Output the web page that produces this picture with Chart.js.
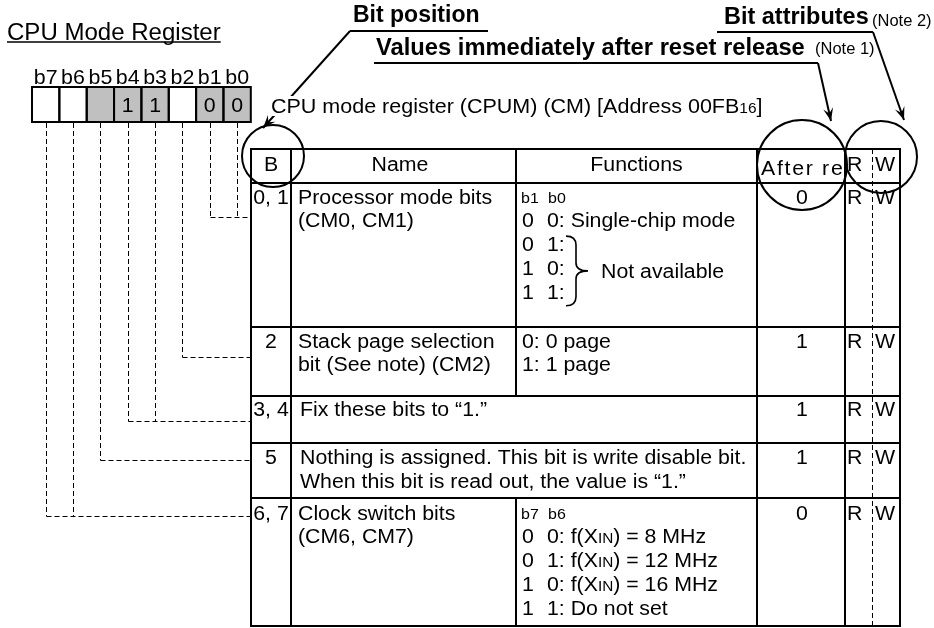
<!DOCTYPE html>
<html><head><meta charset="utf-8">
<script src="https://cdn.jsdelivr.net/npm/chart.js@4"></script>
<style>html,body{margin:0;padding:0;background:#fff;overflow:hidden}canvas{display:block}</style>
</head><body>
<canvas id="c" width="934" height="628"></canvas>
<script>
// ---------- DATA ----------
const registerTitle = 'CPU Mode Register';
const registerCaption = 'CPU mode register (CPUM) (CM) [Address 00FB{16}]';
const bitLabels = ['b7', 'b6', 'b5', 'b4', 'b3', 'b2', 'b1', 'b0'];
const bitFixedValues = ['', '', '', '1', '1', '', '0', '0'];
const bitShaded = [false, false, true, true, true, false, true, true];
const bitRowIndex = [4, 4, 3, 2, 2, 1, 0, 0];
const headers = ['B', 'Name', 'Functions', 'After reset', 'R', 'W'];
const rowBits = ['0, 1', '2', '3, 4', '5', '6, 7'];
const rowNames = [
  ['Processor mode bits', '(CM0, CM1)'],
  ['Stack page selection', 'bit (See note) (CM2)'],
  ['Fix these bits to \u201c1.\u201d'],
  ['Nothing is assigned. This bit is write disable bit.', 'When this bit is read out, the value is \u201c1.\u201d'],
  ['Clock switch bits', '(CM6, CM7)']
];
const rowSpansFunctions = [false, false, true, true, false];
const rowFunctionBitHeader = ['b1\tb0', '', '', '', 'b7\tb6'];
const rowFunctions = [
  ['0\t0: Single-chip mode', '0\t1:', '1\t0:', '1\t1:'],
  ['0: 0 page', '1: 1 page'],
  [],
  [],
  ['0\t0: f(X{IN}) = 8 MHz', '0\t1: f(X{IN}) = 12 MHz', '1\t0: f(X{IN}) = 16 MHz', '1\t1: Do not set']
];
const rowFunctionGroup = [{ from: 1, to: 3, label: 'Not available' }, null, null, null, null];
const rowResetValues = ['0', '1', '1', '1', '0'];
const rowRead = ['R', 'R', 'R', 'R', 'R'];
const rowWrite = ['W', 'W', 'W', 'W', 'W'];
const annotations = [
  { text: 'Bit position', note: '' },
  { text: 'Values immediately after reset release', note: '(Note 1)' },
  { text: 'Bit attributes', note: '(Note 2)' }
];

// ---------- LAYOUT (positions & styles) ----------
const FONT = '"Liberation Sans", Arial, Helvetica, sans-serif';
const colX = [251, 291, 516, 757, 845, 872, 900];
const rowY = [149, 183, 327, 396, 443, 498, 626];
const rowFirstLine = [196.5, 340.5, 409, 457, 512.5];
const lineStep = 23.8;
const connectorY = [217, 357, 421, 460, 516];
const boxX0 = 32, boxW = 27.35, boxTop = 87, boxBot = 122;
const TEXT_SX = 1.065;

function fnt(size, bold) { return (bold ? 'bold ' : '') + size + 'px ' + FONT; }

const drawPlugin = {
  id: 'registerDiagram',
  afterDraw(chart) {
    const ctx = chart.ctx;
    const xs = chart.scales.x, ys = chart.scales.y;
    const X = v => xs.getPixelForValue(v);
    const Y = v => ys.getPixelForValue(v);

    function segs(str) {
      return str.split(/(\{[^}]*\})/).filter(s => s.length).map(s =>
        s[0] === '{' ? { t: s.slice(1, -1), small: true } : { t: s, small: false });
    }
    function txt(str, x, cy, size, o) {
      o = o || {};
      const sx = o.sx !== undefined ? o.sx : (o.bold ? 1 : TEXT_SX);
      const parts = segs(str);
      const small = size * 0.72;
      let w = 0;
      parts.forEach(p => { ctx.font = fnt(p.small ? small : size, o.bold); p.w = ctx.measureText(p.t).width * sx; w += p.w; });
      let px = X(x);
      if (o.align === 'center') px -= w / 2;
      else if (o.align === 'right') px -= w;
      const base = Y(cy) + size * 0.358;
      ctx.fillStyle = '#000';
      ctx.textAlign = 'left';
      ctx.textBaseline = 'alphabetic';
      parts.forEach(p => {
        ctx.font = fnt(p.small ? small : size, o.bold);
        ctx.save(); ctx.translate(px, base); ctx.scale(sx, 1); ctx.fillText(p.t, 0, 0); ctx.restore();
        px += p.w;
      });
      return w;
    }
    function tabTxt(str, x, cy, size, tab) {
      const p = str.split('\t');
      txt(p[0], x, cy, size);
      if (p.length > 1) txt(p[1], x + tab, cy, size);
    }
    function line(x1, y1, x2, y2, w, dash) {
      ctx.save();
      ctx.beginPath();
      ctx.lineWidth = w; ctx.strokeStyle = '#000';
      ctx.setLineDash(dash || []);
      ctx.moveTo(X(x1), Y(y1)); ctx.lineTo(X(x2), Y(y2));
      ctx.stroke();
      ctx.restore();
    }
    const snap = v => Math.round(v) + 0.5;
    function arrow(x1, y1, x2, y2) {
      line(x1, y1, x2, y2, 2);
      const a = Math.atan2(Y(y2) - Y(y1), X(x2) - X(x1));
      const L = 13, H = 5;
      ctx.beginPath();
      ctx.fillStyle = '#000';
      ctx.moveTo(X(x2), Y(y2));
      ctx.lineTo(X(x2) - L * Math.cos(a) + H * Math.sin(a), Y(y2) - L * Math.sin(a) - H * Math.cos(a));
      ctx.lineTo(X(x2) - 0.6 * L * Math.cos(a), Y(y2) - 0.6 * L * Math.sin(a));
      ctx.lineTo(X(x2) - L * Math.cos(a) - H * Math.sin(a), Y(y2) - L * Math.sin(a) + H * Math.cos(a));
      ctx.closePath();
      ctx.fill();
    }
    function circle(cx, cy, r) {
      ctx.beginPath();
      ctx.lineWidth = 2; ctx.strokeStyle = '#000';
      ctx.arc(X(cx), Y(cy), r, 0, Math.PI * 2);
      ctx.stroke();
    }

    ctx.save();
    // Title
    const tw = txt(registerTitle, 7, 31.5, 23, { sx: 1.045 });
    line(7, 42, 7 + tw, 42, 1.5);

    // Bit boxes
    bitLabels.forEach((lab, i) => {
      const x0 = boxX0 + i * boxW;
      if (bitShaded[i]) { ctx.fillStyle = '#c0c0c0'; ctx.fillRect(X(x0), Y(boxTop), boxW, boxBot - boxTop); }
    });
    bitLabels.forEach((lab, i) => {
      const x0 = boxX0 + i * boxW;
      ctx.lineWidth = 2; ctx.strokeStyle = '#000';
      ctx.strokeRect(X(x0), Y(boxTop), boxW, boxBot - boxTop);
      txt(lab, x0 + boxW / 2, 76.5, 21, { align: 'center', sx: 1.02 });
      if (bitFixedValues[i]) txt(bitFixedValues[i], x0 + boxW / 2, 104.5, 20, { align: 'center' });
    });

    // Dashed connectors
    const groupLeft = {};
    bitLabels.forEach((lab, i) => {
      const cx = snap(boxX0 + i * boxW + boxW / 2);
      const r = bitRowIndex[i];
      line(cx, boxBot + 1, cx, snap(connectorY[r]), 1, [5, 3]);
      if (groupLeft[r] === undefined || cx < groupLeft[r]) groupLeft[r] = cx;
    });
    Object.keys(groupLeft).forEach(r => line(groupLeft[r], snap(connectorY[r]), colX[0], snap(connectorY[r]), 1, [5, 3]));

    // Table grid
    const top = rowY[0], bot = rowY[rowY.length - 1];
    line(snap(colX[5]), top, snap(colX[5]), bot, 1, [5, 3]);
    [0, 1, 3, 4, 6].forEach(ci => line(colX[ci], top - 1, colX[ci], bot + 1, 2));
    rowY.forEach(y => line(colX[0] - 1, y, colX[6] + 1, y, 2));
    line(colX[2], rowY[0], colX[2], rowY[1], 2);
    rowSpansFunctions.forEach((sp, r) => { if (!sp) line(colX[2], rowY[r + 1], colX[2], rowY[r + 2], 2); });

    // Headers
    txt(headers[0], (colX[0] + colX[1]) / 2, 164, 20, { align: 'center' });
    txt(headers[1], 400, 164, 20, { align: 'center' });
    txt(headers[2], (colX[2] + colX[3]) / 2, 164, 20, { align: 'center' });
    ctx.save();
    ctx.beginPath(); ctx.rect(X(colX[3]) + 1, Y(top), colX[4] - colX[3] - 2, rowY[1] - top); ctx.clip();
    try { ctx.letterSpacing = '1.6px'; } catch (e) {}
    txt(headers[3], 761, 168, 20);
    try { ctx.letterSpacing = '0px'; } catch (e) {}
    ctx.restore();
    txt(headers[4], 847, 164, 20);
    txt(headers[5], 875, 164, 20);

    // Rows
    rowBits.forEach((b, r) => {
      const y0 = rowFirstLine[r];
      txt(b, (colX[0] + colX[1]) / 2, y0, 20, { align: 'center' });
      const nx = rowSpansFunctions[r] ? 300 : 298;
      rowNames[r].forEach((s, k) => txt(s, nx, y0 + k * lineStep, 20));
      let fy = y0;
      if (rowFunctionBitHeader[r]) { tabTxt(rowFunctionBitHeader[r], 521, fy + 1, 15, 27); fy += lineStep; }
      rowFunctions[r].forEach((s, k) => tabTxt(s, 522, fy + k * lineStep, 20, 25));
      const g = rowFunctionGroup[r];
      if (g) {
        const hdr = rowFunctionBitHeader[r] ? 1 : 0;
        const ya = y0 + (g.from + hdr) * lineStep - 8, yb = y0 + (g.to + hdr) * lineStep + 14;
        const ym = (ya + yb) / 2;
        const x0 = 566, xm = 576, xp = 588;
        ctx.beginPath(); ctx.lineWidth = 1.6; ctx.strokeStyle = '#000'; ctx.setLineDash([]);
        ctx.moveTo(X(x0), Y(ya));
        ctx.quadraticCurveTo(X(xm), Y(ya), X(xm), Y(ya + 9));
        ctx.lineTo(X(xm), Y(ym - 8));
        ctx.quadraticCurveTo(X(xm), Y(ym), X(xp), Y(ym));
        ctx.quadraticCurveTo(X(xm), Y(ym), X(xm), Y(ym + 8));
        ctx.lineTo(X(xm), Y(yb - 9));
        ctx.quadraticCurveTo(X(xm), Y(yb), X(x0), Y(yb));
        ctx.stroke();
        txt(g.label, 601, ym, 20);
      }
      txt(rowResetValues[r], (colX[3] + colX[4]) / 2 + 1, y0, 20, { align: 'center' });
      txt(rowRead[r], 847, y0, 20);
      txt(rowWrite[r], 875, y0, 20);
    });

    // Annotation lines and arrows
    arrow(350, 31, 263, 128);
    arrow(818, 63, 831, 121);
    arrow(873, 32, 904, 120);
    line(350, 31, 488, 31, 2);
    line(374, 63, 818, 63, 2);
    line(717, 32, 873, 32, 2);

    // Register caption (white backing so the arrow passes behind it)
    ctx.fillStyle = '#fff';
    ctx.fillRect(X(268), Y(96), 40, 20);
    txt(registerCaption, 271, 106, 20, { sx: 1.075 });

    // Annotation texts
    txt(annotations[0].text, 353, 14, 23, { bold: true });
    txt(annotations[1].text, 376, 47, 23.5, { bold: true, sx: 1.01 });
    txt(annotations[1].note, 815, 48, 16, { sx: 1.03 });
    txt(annotations[2].text, 724, 16, 23, { bold: true, sx: 1.02 });
    txt(annotations[2].note, 872, 20, 16, { sx: 1.03 });

    // Circles
    circle(273, 156, 31);
    circle(802, 165, 45);
    circle(881, 157, 36);
    ctx.restore();
  }
};

const chart = new Chart(document.getElementById('c'), {
  type: 'scatter',
  data: { datasets: [{ data: [], pointRadius: 0 }] },
  options: {
    responsive: false,
    animation: false,
    devicePixelRatio: 1,
    layout: { padding: 0 },
    plugins: { legend: { display: false }, tooltip: { enabled: false } },
    scales: {
      x: { type: 'linear', min: 0, max: 934, display: false },
      y: { type: 'linear', min: 0, max: 628, reverse: true, display: false }
    }
  },
  plugins: [drawPlugin]
});
</script>
</body></html>
